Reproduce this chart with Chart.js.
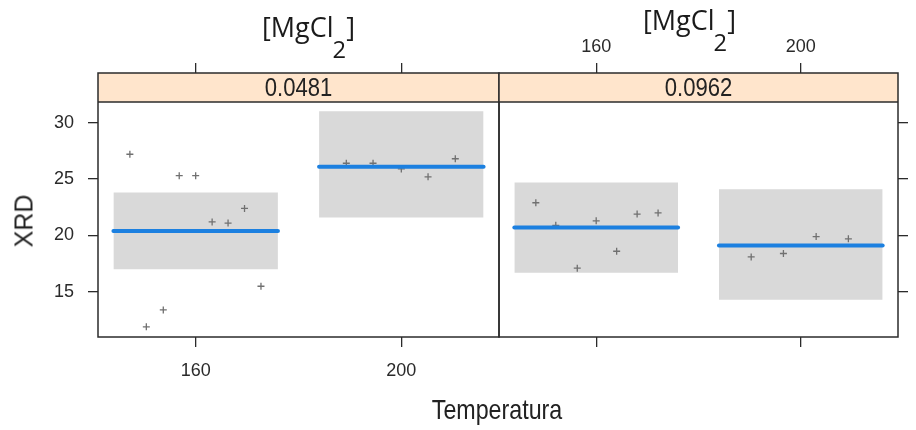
<!DOCTYPE html>
<html>
<head>
<meta charset="utf-8">
<script src="https://cdn.jsdelivr.net/npm/chart.js@4.4.1/dist/chart.umd.min.js"></script>
<style>
  body { margin: 0; background: #ffffff; }
  #wrap { position: relative; width: 916px; height: 430px; overflow: hidden; }
  #wrap canvas { position: absolute; left: 0; top: 0; }
  .lbl { position: absolute; white-space: nowrap; line-height: 1; color: #222; }
  .mg { font-family: "Open Sans", sans-serif; font-size: 27px; color: #1a1a1a; }
  .mg .sub { position: relative; top: 21px; font-size: 0.88em; margin-left: -1px; }
  #xtitle { font-family: "Liberation Sans", Arial, sans-serif; font-size: 28px;
            left: 497px; top: 396px; transform: translateX(-50%) scaleX(0.83); }
  #ytitle { font-family: "Liberation Sans", Arial, sans-serif; font-size: 25px;
            left: 24px; top: 221px; transform: translate(-50%, -50%) rotate(-90deg); }
</style>
</head>
<body>
<div id="wrap">
  <canvas id="panelA" width="916" height="430"></canvas>
  <canvas id="panelB" width="916" height="430"></canvas>
  <div class="lbl mg" style="left:262px; top:13px;">[MgCl<span class="sub">2</span>]</div>
  <div class="lbl mg" style="left:643px; top:6px;">[MgCl<span class="sub">2</span>]</div>
  <div class="lbl" id="xtitle">Temperatura</div>
  <div class="lbl" id="ytitle">XRD</div>
</div>
<script>
//-----------------------------------------------------------------
// DATA
const tempLevels = [160, 200];        // Temperatura levels (x)
const bandHalfWidth = 16;             // each effect box spans level +/- this
const xTicks = [160, 200];
const yTicks = [15, 20, 25, 30];
const stripLabels = ['0.0481', '0.0962'];   // [MgCl2] panels

// panel [MgCl2] = 0.0481
const fitA = [20.4, 26.1];
const lowerA = [17.0, 21.6];
const upperA = [23.8, 31.0];
const tempA = [147.2, 150.4, 153.7, 156.8, 160, 163.2, 166.3, 169.5, 172.7,
               189.3, 194.5, 200, 205.2, 210.5];
const xrdA = [27.2, 11.9, 13.4, 25.3, 25.3, 21.2, 21.1, 22.4, 15.5,
              26.4, 26.4, 25.9, 25.2, 26.8];

// panel [MgCl2] = 0.0962
const fitB = [20.7, 19.1];
const lowerB = [16.7, 14.3];
const upperB = [24.7, 24.1];
const tempB = [148.2, 152.1, 156.3, 160, 164, 168, 172.1,
               190.3, 196.6, 203, 209.3];
const xrdB = [22.9, 20.9, 17.1, 21.3, 18.6, 21.9, 22.0,
              18.1, 18.4, 19.9, 19.7];

//-----------------------------------------------------------------
// STYLE
const sans = '"Liberation Sans", Arial, sans-serif';
const inkColor = '#2b2b2b';
const xMin = 141, xMax = 219;
const yMin = 11, yMax = 34.4;   // top part of the range sits under the strip
const stripHeight = 29;

function panelDatasets(fit, lower, upper, temps, xrds) {
    const ds = [];
    tempLevels.forEach((t, i) => {
        ds.push({
            showLine: true,
            data: [{ x: t - bandHalfWidth, y: upper[i] }, { x: t + bandHalfWidth, y: upper[i] }],
            borderColor: 'rgba(0,0,0,0)',
            borderWidth: 0,
            pointRadius: 0,
            backgroundColor: '#d9d9d9',
            fill: { value: lower[i] },
            order: 3,
        });
        ds.push({
            showLine: true,
            data: [{ x: t - bandHalfWidth, y: fit[i] }, { x: t + bandHalfWidth, y: fit[i] }],
            borderColor: '#1c80e0',
            borderWidth: 4,
            borderCapStyle: 'round',
            pointRadius: 0,
            order: 1,
        });
    });
    ds.push({
        data: temps.map((x, i) => ({ x: x, y: xrds[i] })),
        pointStyle: 'cross',
        pointRadius: 3.5,
        borderColor: '#707070',
        borderWidth: 1.3,
        order: 2,
    });
    return ds;
}

// strip on top of each panel + panel frame
const stripPlugin = {
    id: 'strip',
    beforeDatasetsDraw(chart, args, opts) {
        const { ctx, chartArea: a } = chart;
        ctx.save();
        ctx.fillStyle = '#ffe5cc';
        ctx.fillRect(a.left, a.top, a.right - a.left, stripHeight);
        ctx.restore();
    },
    afterDraw(chart, args, opts) {
        const { ctx, chartArea: a } = chart;
        ctx.save();
        ctx.strokeStyle = inkColor;
        ctx.lineWidth = 1.5;
        ctx.strokeRect(a.left, a.top, a.right - a.left, a.bottom - a.top);
        ctx.beginPath();
        ctx.moveTo(a.left, a.top + stripHeight);
        ctx.lineTo(a.right, a.top + stripHeight);
        ctx.stroke();
        // narrow-looking label: squeeze horizontally
        ctx.fillStyle = '#222';
        ctx.font = '26px ' + sans;
        ctx.textAlign = 'center';
        ctx.textBaseline = 'middle';
        ctx.translate((a.left + a.right) / 2, a.top + stripHeight / 2 + 1);
        ctx.scale(0.85, 1);
        ctx.fillText(opts.label, 0, 0);
        ctx.restore();
    }
};

function tickAxis(position, size, values, showLabels, pad) {
    const horizontal = position === 'top' || position === 'bottom';
    return {
        type: 'linear',
        position: position,
        min: horizontal ? xMin : yMin,
        max: horizontal ? xMax : yMax,
        afterBuildTicks: (axis) => { axis.ticks = values.map(v => ({ value: v })); },
        afterFit: (axis) => {
            if (horizontal) axis.height = size; else axis.width = size;
        },
        border: { display: false },
        grid: {
            drawOnChartArea: false,
            drawTicks: true,
            tickLength: 10,
            color: inkColor,
            lineWidth: 1.3,
        },
        ticks: {
            display: showLabels,
            padding: pad,
            color: '#2a2a2a',
            font: { family: sans, size: 18 },
            maxRotation: 0,
        },
    };
}

function makePanel(canvasId, datasets, label, scales, padding) {
    return new Chart(document.getElementById(canvasId).getContext('2d'), {
        type: 'scatter',
        data: { datasets: datasets },
        options: {
            responsive: false,
            animation: false,
            devicePixelRatio: 1,
            layout: { padding: padding },
            scales: scales,
            plugins: {
                legend: { display: false },
                tooltip: { enabled: false },
                strip: { label: label },
            },
        },
        plugins: [stripPlugin],
    });
}

const chartA = makePanel('panelA',
    panelDatasets(fitA, lowerA, upperA, tempA, xrdA),
    stripLabels[0],
    {
        x: tickAxis('bottom', 93, xTicks, true, 13),
        x2: tickAxis('top', 73, xTicks, false, 10),
        y: tickAxis('left', 98, yTicks, true, 14),
    },
    { left: 0, right: 916 - 499, top: 0, bottom: 0 });

const chartB = makePanel('panelB',
    panelDatasets(fitB, lowerB, upperB, tempB, xrdB),
    stripLabels[1],
    {
        x: tickAxis('bottom', 93, xTicks, false, 13),
        x2: tickAxis('top', 73, xTicks, true, 5),
        y: tickAxis('right', 18, yTicks, false, 10),
    },
    { left: 499, right: 0, top: 0, bottom: 0 });
</script>
</body>
</html>
